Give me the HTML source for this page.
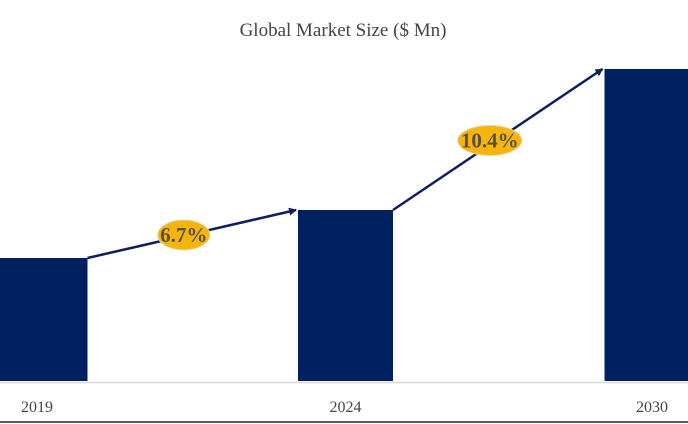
<!DOCTYPE html>
<html><head><meta charset="utf-8"><style>
html,body{margin:0;padding:0;background:#fff;}
svg{display:block;font-family:"Liberation Serif",serif;}
</style></head><body>
<svg id="chart" width="688" height="424" viewBox="0 0 688 424">
<defs><marker id="ah" markerWidth="8" markerHeight="8" refX="7" refY="4" orient="auto" markerUnits="userSpaceOnUse"><path d="M0,0 L8,4 L0,8 z" fill="#0f1f5c"/></marker></defs>
<text x="343" y="36" text-anchor="middle" font-size="19" fill="#444">Global Market Size ($ Mn)</text>
<line x1="0" y1="382.5" x2="688" y2="382.5" stroke="#d9d9d9" stroke-width="1.5"/>
<line x1="0" y1="422" x2="688" y2="422" stroke="#222" stroke-width="1.5"/>
<g id="bars"></g><g id="arrows"></g><g id="labels"></g>
</svg>
<script>
const categories = ["2019", "2024", "2030"];
const values = [12.3, 17.1, 31.2];
const cagrLabels = ["6.7%", "10.4%"];
const svg = document.getElementById('chart');
const NS = "http://www.w3.org/2000/svg";
const base = 381, unit = 10;
const centers = [40, 345.5, 652];
const barW = 95;
function y(v){ return base - v*unit; }
function xLeft(i){ return centers[i] - barW/2; }
const bars = document.getElementById('bars');
const labels = document.getElementById('labels');
const arrows = document.getElementById('arrows');
categories.forEach((c,i)=>{
  const r = document.createElementNS(NS,'rect');
  r.setAttribute('x', Math.max(0,xLeft(i)));
  r.setAttribute('y', y(values[i]));
  r.setAttribute('width', xLeft(i)<0 ? barW + xLeft(i) : barW);
  r.setAttribute('height', base - y(values[i]));
  r.setAttribute('fill', '#002060');
  
  
  bars.appendChild(r);
  const t = document.createElementNS(NS,'text');
  t.setAttribute('x', centers[i] - (i===0?3:0) );
  t.setAttribute('y', 412);
  t.setAttribute('text-anchor','middle');
  t.setAttribute('font-size','16');
  t.setAttribute('fill','#444');
  t.textContent = c;
  
  
  labels.appendChild(t);
});
for(let i=0;i<categories.length-1;i++){
  const x1 = xLeft(i)+barW, y1 = y(values[i]);
  const x2 = xLeft(i+1)-2, y2 = y(values[i+1]);
  const l = document.createElementNS(NS,'line');
  l.setAttribute('x1',x1); l.setAttribute('y1',y1);
  l.setAttribute('x2',x2); l.setAttribute('y2',y2);
  l.setAttribute('stroke','#0f1f5c'); l.setAttribute('stroke-width','2.5');
  l.setAttribute('marker-end','url(#ah)');
  
  
  arrows.appendChild(l);
  const cx = (x1+x2)/2 - 8, cy = (y1+y2)/2 + 1;
  const w = cagrLabels[i].length*12 + 4;
  const e = document.createElementNS(NS,'ellipse');
  e.setAttribute('cx',cx); e.setAttribute('cy',cy);
  e.setAttribute('rx',w/2); e.setAttribute('ry',15);
  e.setAttribute('fill','#f5b50a');
  e.setAttribute('stroke','#e0d8b0'); e.setAttribute('stroke-width','1');
  
  
  arrows.appendChild(e);
  const t = document.createElementNS(NS,'text');
  t.setAttribute('x',cx); t.setAttribute('y',cy+7);
  t.setAttribute('text-anchor','middle');
  t.setAttribute('font-size','21'); t.setAttribute('font-weight','bold');
  t.setAttribute('fill','#5a5040');
  t.textContent = cagrLabels[i];
  
  
  arrows.appendChild(t);
}
</script>
</body></html>
